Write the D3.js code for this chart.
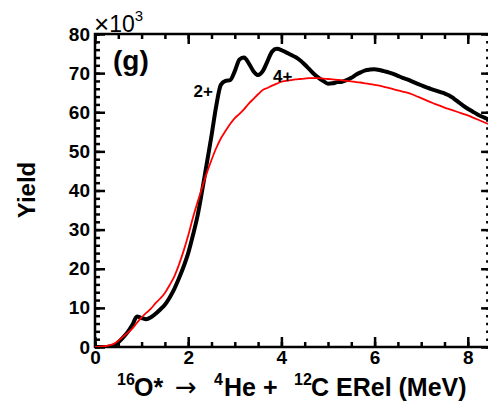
<!DOCTYPE html>
<html>
<head>
<meta charset="utf-8">
<script src="https://cdn.jsdelivr.net/npm/d3@7"></script>
<style>
  body { margin: 0; background: #fff; }
  svg { display: block; font-family: "Liberation Sans", Arial, sans-serif; }
</style>
</head>
<body>
<svg width="488" height="404"></svg>
<script>
// energy in MeV, yield in units of 10^3
const energy = [0.0,0.1,0.2,0.3,0.4,0.5,0.6,0.7,0.8,0.9,1.0,1.1,1.2,1.3,1.4,1.5,1.6,1.7,1.8,1.9,
  2.0,2.1,2.2,2.3,2.4,2.5,2.6,2.7,2.8,2.9,3.0,3.1,3.2,3.3,3.4,3.5,3.6,3.7,3.8,3.9,
  4.0,4.1,4.2,4.3,4.4,4.5,4.6,4.7,4.8,4.9,5.0,5.1,5.2,5.3,5.4,5.5,5.6,5.7,5.8,5.9,
  6.0,6.1,6.2,6.3,6.4,6.5,6.6,6.7,6.8,6.9,7.0,7.1,7.2,7.3,7.4,7.5,7.6,7.7,7.8,7.9,
  8.0,8.1,8.2,8.3,8.4,8.5]
const dataYield = [0,0,0,0.1,0.3,1.2,2.4,3.8,5.6,7.8,7.4,7.1,7.6,8.5,9.6,10.8,12.6,14.8,17.5,20.5,
  24,28.5,33.5,40,47,54,61.5,67,68,68.2,70.5,73.5,74,72.5,70.5,69.5,70.5,73,75.5,76.2,
  75.9,75.3,74.7,74.1,73.3,72.2,71,69.8,68.8,68,67.3,67.4,67.7,67.8,68.2,68.8,69.6,70.2,70.7,70.9,
  71,70.8,70.5,70.2,69.8,69.3,68.8,68.4,67.9,67.4,66.9,66.4,66,65.6,65.2,64.8,64.3,63.5,62.6,61.7,
  60.9,60.2,59.5,58.9,58.4,57.9]
const mixedYield = [0,0.1,0.2,0.4,0.8,1.6,2.6,3.6,4.7,6.2,7.6,8.7,9.8,11.2,12.4,13.8,15.8,18,21,24.5,
  28.5,33,37,40.8,44.5,47.8,50.8,53.3,55.2,57,58.5,59.6,60.8,62.2,63.4,64.6,65.7,66.2,66.8,67.3,
  67.8,68,68.2,68.4,68.5,68.6,68.7,68.7,68.7,68.6,68.5,68.4,68.3,68.2,68,67.9,67.7,67.6,67.4,67.2,
  67,66.8,66.5,66.2,65.9,65.6,65.3,65,64.6,64.1,63.6,63.1,62.6,62.1,61.7,61.2,60.8,60.4,60,59.6,
  59.2,58.7,58.2,57.7,57.2,56.7]
const xMajor = [0, 2, 4, 6, 8]
const yMajor = [0, 10, 20, 30, 40, 50, 60, 70, 80]
const peakLabels = [
    {e: 2.53, y: 63.9, t: "2+", anchor: "end"},
    {e: 3.82, y: 67.7, t: "4+", anchor: "start"}
]

function drawChart() {
    const svg = d3.select("svg")
    const left = 95, top = 34, bottom = 347
    const right = left + 8.5 * 46.6

    const x = d3.scaleLinear().domain([0, 8.5]).range([left, right])
    const y = d3.scaleLinear().domain([0, 80]).range([bottom, top])

    svg.append("defs").append("clipPath").attr("id", "plot")
        .append("rect")
        .attr("x", left).attr("y", top)
        .attr("width", right - left).attr("height", bottom - top)

    const xMinor = d3.range(0, 8.51, 0.5)
    const yMinor = d3.range(0, 80.1, 2)

    function styleAxis(g) {
        g.select(".domain").remove()
        g.selectAll("line").attr("stroke", "#000").attr("stroke-width", 2.5)
        g.selectAll("text")
            .attr("font-size", 19).attr("font-weight", "bold").attr("fill", "#000")
    }

    // minor ticks
    svg.append("g").attr("transform", `translate(0,${bottom})`)
        .call(d3.axisBottom(x).tickValues(xMinor).tickSize(-5).tickFormat(""))
        .call(styleAxis)
    svg.append("g").attr("transform", `translate(0,${top})`)
        .call(d3.axisTop(x).tickValues(xMinor).tickSize(-5).tickFormat(""))
        .call(styleAxis)
    svg.append("g").attr("transform", `translate(${left},0)`)
        .call(d3.axisLeft(y).tickValues(yMinor).tickSize(-5).tickFormat(""))
        .call(styleAxis)
    svg.append("g").attr("transform", `translate(${right},0)`)
        .call(d3.axisRight(y).tickValues(yMinor).tickSize(-5).tickFormat(""))
        .call(styleAxis)

    // major ticks with labels
    svg.append("g").attr("transform", `translate(0,${bottom})`)
        .call(d3.axisBottom(x).tickValues(xMajor).tickSize(-10).tickPadding(4).tickFormat(d3.format("d")))
        .call(styleAxis)
    svg.append("g").attr("transform", `translate(0,${top})`)
        .call(d3.axisTop(x).tickValues(xMajor).tickSize(-10).tickFormat(""))
        .call(styleAxis)
    svg.append("g").attr("transform", `translate(${left},0)`)
        .call(d3.axisLeft(y).tickValues(yMajor).tickSize(-10).tickPadding(5).tickFormat(d3.format("d")))
        .call(styleAxis)
    svg.append("g").attr("transform", `translate(${right},0)`)
        .call(d3.axisRight(y).tickValues(yMajor).tickSize(-10).tickFormat(""))
        .call(styleAxis)

    // frame
    svg.append("rect")
        .attr("x", left).attr("y", top)
        .attr("width", right - left).attr("height", bottom - top)
        .attr("fill", "none").attr("stroke", "#000").attr("stroke-width", 2.5)

    const line = d3.line()
        .x((d, i) => x(energy[i]))
        .y(d => y(d))
        .curve(d3.curveMonotoneX)

    const plot = svg.append("g").attr("clip-path", "url(#plot)")
    plot.append("path")
        .datum(dataYield)
        .attr("d", line)
        .attr("fill", "none")
        .attr("stroke", "#000")
        .attr("stroke-width", 4)
        .attr("stroke-linejoin", "round")
    plot.append("path")
        .datum(mixedYield)
        .attr("d", line)
        .attr("fill", "none")
        .attr("stroke", "#f00")
        .attr("stroke-width", 1.8)

    // labels
    svg.append("text")
        .attr("x", 113).attr("y", 70)
        .attr("font-size", 28).attr("font-weight", "bold")
        .text("(g)")

    svg.selectAll(".peak")
        .data(peakLabels)
        .enter()
        .append("text")
        .attr("class", "peak")
        .attr("x", d => x(d.e))
        .attr("y", d => y(d.y))
        .attr("text-anchor", d => d.anchor)
        .attr("font-size", 17).attr("font-weight", "bold")
        .text(d => d.t)

    const exp = svg.append("text")
        .attr("x", 94).attr("y", 32)
        .attr("font-size", 23)
    exp.append("tspan").attr("font-size", 26).attr("dy", 1).text("\u00d7")
    exp.append("tspan").attr("dy", -1).text("10")
    exp.append("tspan").attr("dy", -11).attr("font-size", 15).text("3")

    svg.append("text")
        .attr("transform", "translate(35,190) rotate(-90)")
        .attr("text-anchor", "middle")
        .attr("font-size", 24).attr("font-weight", "bold")
        .text("Yield")

    const xl = svg.append("text")
        .attr("y", 396)
        .attr("font-size", 25).attr("font-weight", "bold")
    xl.append("tspan").attr("x", 117).attr("dy", -11).attr("font-size", 16).text("16")
    xl.append("tspan").attr("x", 134).attr("dy", 11).text("O*")
    xl.append("tspan").attr("x", 175).attr("font-weight", "normal").attr("font-family", "DejaVu Sans")
        .attr("font-size", 26).text("\u2192")
    xl.append("tspan").attr("x", 214).attr("dy", -11).attr("font-size", 16).text("4")
    xl.append("tspan").attr("x", 224).attr("dy", 11).text("He +")
    xl.append("tspan").attr("x", 294).attr("dy", -11).attr("font-size", 16).text("12")
    xl.append("tspan").attr("x", 311).attr("dy", 11).text("C ERel (MeV)")
}
drawChart()
</script>
</body>
</html>
